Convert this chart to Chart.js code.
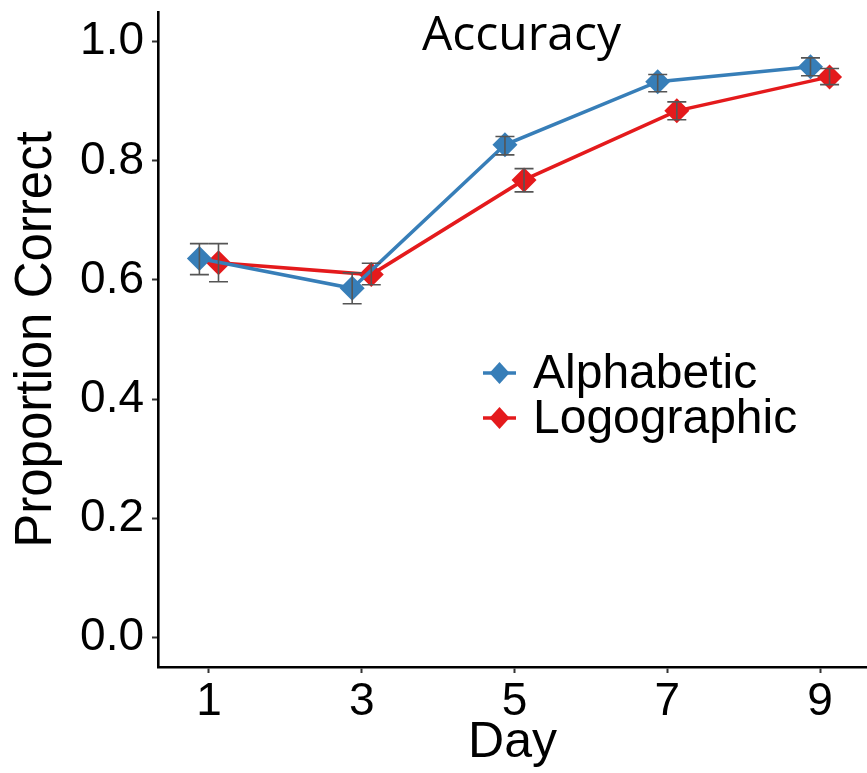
<!DOCTYPE html>
<html lang="en">
<head>
    <meta charset="UTF-8">
    <title>Accuracy</title>
    <script src="https://cdn.jsdelivr.net/npm/chart.js"></script>
    <style>
        html, body { margin: 0; padding: 0; background: #fff; }
        #wrap { width: 867px; height: 773px; }
    </style>
</head>
<body>
    <div id="wrap"><canvas id="grafico"></canvas></div>

<script>
    // dados
    var dias = [1, 3, 5, 7, 9];
    var nomesSeries = ["Alphabetic", "Logographic"];
    var coresSeries = ["#377EB8", "#E41A1C"];

    var alfabetico = [0.636, 0.586, 0.827, 0.933, 0.958];
    var alfabeticoMin = [0.609, 0.560, 0.810, 0.916, 0.943];
    var alfabeticoMax = [0.661, 0.612, 0.841, 0.945, 0.973];

    var logografico = [0.629, 0.609, 0.768, 0.884, 0.941];
    var logograficoMin = [0.597, 0.592, 0.748, 0.869, 0.928];
    var logograficoMax = [0.661, 0.628, 0.787, 0.899, 0.955];

    var ticksX = [1, 3, 5, 7, 9];
    var ticksY = [0, 0.2, 0.4, 0.6, 0.8, 1.0];

    var deslocamento = [-0.125, 0.125]; // dodge

    function montarPontos(valores, min, max, d) {
        var pontos = [];
        for (var i = 0; i < dias.length; i++) {
            pontos.push({ x: dias[i] + d, y: valores[i], lo: min[i], hi: max[i] });
        }
        return pontos;
    }

    var fonteEixo = "'Liberation Sans', Arial, sans-serif";

    function semPadding(s) {
        s.paddingTop = 0; s.paddingBottom = 0;
        s.paddingLeft = 0; s.paddingRight = 0;
    }

    const barrasErro = {
        id: 'barrasErro',
        afterDatasetsDraw(chart) {
            const ctx = chart.ctx;
            const sx = chart.scales.x, sy = chart.scales.y;
            ctx.save();
            ctx.strokeStyle = '#555555';
            ctx.lineWidth = 1.6;
            chart.data.datasets.forEach(function (ds) {
                ds.data.forEach(function (p) {
                    const x = sx.getPixelForValue(p.x);
                    const y1 = sy.getPixelForValue(p.lo);
                    const y2 = sy.getPixelForValue(p.hi);
                    ctx.beginPath();
                    ctx.moveTo(x, y1); ctx.lineTo(x, y2);
                    ctx.moveTo(x - 9.5, y1); ctx.lineTo(x + 9.5, y1);
                    ctx.moveTo(x - 9.5, y2); ctx.lineTo(x + 9.5, y2);
                    ctx.stroke();
                });
            });
            ctx.restore();
        }
    };

    const legendaTitulo = {
        id: 'legendaTitulo',
        afterDraw(chart) {
            const ctx = chart.ctx;
            const area = chart.chartArea;
            ctx.save();

            // titulo
            ctx.fillStyle = '#000';
            ctx.font = "48px 'Open Sans', sans-serif";
            ctx.textAlign = 'center';
            ctx.textBaseline = 'alphabetic';
            ctx.fillText('Accuracy', (area.left + area.right) / 2 + 9, area.top + 38);

            // legenda
            var x0 = area.left + 325;
            var y0 = area.top + 361;
            for (var i = 0; i < nomesSeries.length; i++) {
                var y = y0 + i * 45;
                ctx.strokeStyle = coresSeries[i];
                ctx.lineWidth = 3.5;
                ctx.beginPath();
                ctx.moveTo(x0, y); ctx.lineTo(x0 + 33, y);
                ctx.stroke();
                ctx.fillStyle = coresSeries[i];
                ctx.beginPath();
                ctx.moveTo(x0 + 16.5 - 10, y);
                ctx.lineTo(x0 + 16.5, y - 11);
                ctx.lineTo(x0 + 16.5 + 10, y);
                ctx.lineTo(x0 + 16.5, y + 11);
                ctx.closePath();
                ctx.fill();
                ctx.fillStyle = '#000';
                ctx.font = "48px " + fonteEixo;
                ctx.textAlign = 'left';
                ctx.textBaseline = 'middle';
                ctx.fillText(nomesSeries[i], x0 + 50, y + 2);
            }
            ctx.restore();
        }
    };

    var conjuntos = [
        montarPontos(alfabetico, alfabeticoMin, alfabeticoMax, deslocamento[0]),
        montarPontos(logografico, logograficoMin, logograficoMax, deslocamento[1])
    ];

    const grafico = document.getElementById('grafico');
    new Chart(grafico, {
        type: 'line',
        data: {
            datasets: conjuntos.map(function (pts, i) {
                return {
                    label: nomesSeries[i],
                    data: pts,
                    borderColor: coresSeries[i],
                    backgroundColor: coresSeries[i],
                    borderWidth: 3.5,
                    pointStyle: 'rectRot',
                    pointRadius: 12.5,
                    pointBorderWidth: 0,
                    tension: 0
                };
            })
        },
        options: {
            responsive: true,
            maintainAspectRatio: false,
            animation: false,
            layout: { autoPadding: false, padding: { left: 0, right: 0, top: 12, bottom: 0 } },
            plugins: {
                legend: { display: false },
                tooltip: { enabled: false }
            },
            scales: {
                x: {
                    type: 'linear',
                    min: 0.333,
                    max: 9.615,
                    afterBuildTicks: function (s) { s.ticks = ticksX.map(function (v) { return { value: v }; }); },
                    afterFit: function (s) { s.height = 106; semPadding(s); },
                    grid: { drawOnChartArea: false, drawTicks: true, tickLength: 6, tickWidth: 2, tickColor: '#333' },
                    border: { display: true, color: '#000', width: 2.6 },
                    ticks: { color: '#000', font: { family: fonteEixo, size: 46 }, padding: 2 },
                    title: { display: true, text: 'Day', color: '#000', font: { family: fonteEixo, size: 50 }, padding: { top: 0, bottom: 0 } }
                },
                y: {
                    min: -0.05,
                    max: 1.05,
                    afterBuildTicks: function (s) { s.ticks = ticksY.map(function (v) { return { value: v }; }); },
                    afterFit: function (s) { s.width = 158; semPadding(s); },
                    grid: { drawOnChartArea: false, drawTicks: true, tickLength: 6, tickWidth: 2, tickColor: '#333' },
                    border: { display: true, color: '#000', width: 2.6 },
                    ticks: { color: '#000', font: { family: fonteEixo, size: 46 }, padding: 8,
                        callback: function (v) { return v.toFixed(1); } },
                    title: { display: true, text: 'Proportion Correct', color: '#000', font: { family: fonteEixo, size: 51 }, padding: { top: 6, bottom: 0 } }
                }
            }
        },
        plugins: [barrasErro, legendaTitulo]
    });
</script>
</body>
</html>
